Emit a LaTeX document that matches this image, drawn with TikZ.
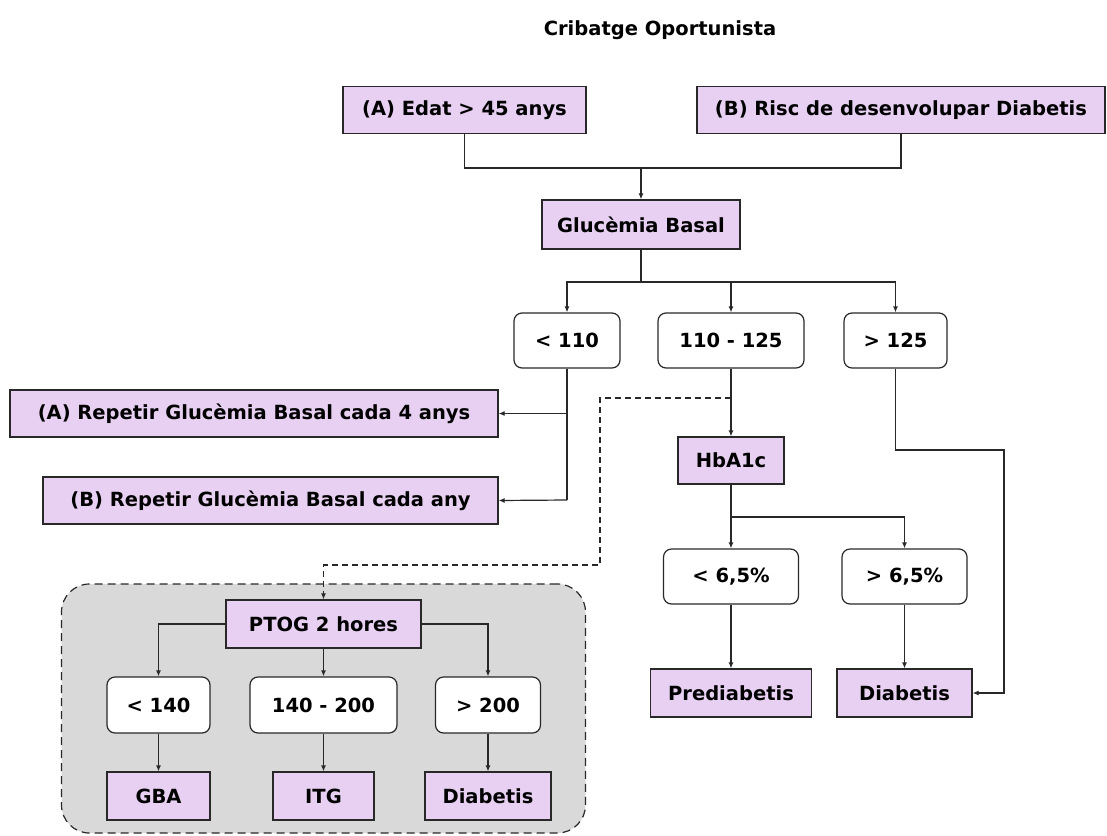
\documentclass[tikz,border=0pt]{standalone}
\usepackage{fontspec}
\setmainfont{DejaVu Sans}
\usetikzlibrary{arrows.meta}
\definecolor{boxfill}{RGB}{232,208,242}
\definecolor{edge}{RGB}{40,40,40}
\definecolor{groupfill}{RGB}{217,217,217}
\tikzset{
  every node/.style={font=\fontsize{19.5}{23}\selectfont\bfseries, text=black},
  pbox/.style={draw=edge, fill=boxfill, line width=1.2pt, inner sep=0pt},
  rbox/.style={draw=edge, fill=white, line width=1.2pt, rounded corners=8pt, inner sep=0pt},
  link/.style={draw=edge, line width=1.2pt},
  arr/.style={link, -{Latex[length=6pt,width=5pt]}},
  grpstyle/.style={draw=edge, fill=groupfill, line width=1.2pt, rounded corners=28pt,
    dash pattern=on 8pt off 5pt, inner sep=0pt},
}
\begin{document}
\begin{tikzpicture}[x=1pt,y=1pt]
\useasboundingbox (0,0) rectangle (1107,-835);

% title
\node (title) at (660,-30) {Cribatge Oportunista};

% grouped oral glucose tolerance test block
\node[grpstyle, minimum width=524pt, minimum height=249pt] (grp) at (323.5,-708.5) {};

% entry criteria
\node[pbox, minimum width=243pt, minimum height=47pt] (A) at (464.5,-110) {(A) Edat > 45 anys};
\node[pbox, minimum width=408pt, minimum height=47pt] (B) at (901,-110) {(B) Risc de desenvolupar Diabetis};
\node[pbox, minimum width=198pt, minimum height=49pt] (G) at (641,-224.5) {Glucèmia Basal};

% fasting glucose ranges
\node[rbox, minimum width=106pt, minimum height=55pt] (L110) at (567,-340.5) {< 110};
\node[rbox, minimum width=146pt, minimum height=55pt] (M) at (731,-340.5) {110 - 125};
\node[rbox, minimum width=103pt, minimum height=55pt] (H125) at (895.5,-340.5) {> 125};

% repeat screening
\node[pbox, minimum width=488pt, minimum height=47pt] (RA) at (254,-413.5) {(A) Repetir Glucèmia Basal cada 4 anys};
\node[pbox, minimum width=455pt, minimum height=47pt] (RB) at (270.5,-500.5) {(B) Repetir Glucèmia Basal cada any};

% HbA1c branch
\node[pbox, minimum width=106pt, minimum height=47pt] (Hb) at (731,-460.5) {HbA1c};
\node[rbox, minimum width=135pt, minimum height=55pt] (L65) at (731,-576.5) {< 6,5\%};
\node[rbox, minimum width=125pt, minimum height=55pt] (G65) at (904.5,-576.5) {> 6,5\%};
\node[pbox, minimum width=161pt, minimum height=48pt] (Pre) at (731,-693) {Prediabetis};
\node[pbox, minimum width=135pt, minimum height=48pt] (Dia) at (904.5,-693) {Diabetis};

% OGTT branch
\node[pbox, minimum width=195pt, minimum height=48pt] (PT) at (323.5,-624) {PTOG 2 hores};
\node[rbox, minimum width=103pt, minimum height=56pt] (L140) at (158.5,-705) {< 140};
\node[rbox, minimum width=147pt, minimum height=56pt] (M140) at (323.5,-705) {140 - 200};
\node[rbox, minimum width=105pt, minimum height=56pt] (G200) at (488,-705) {> 200};
\node[pbox, minimum width=103pt, minimum height=48pt] (GBA) at (158.5,-796) {GBA};
\node[pbox, minimum width=101pt, minimum height=48pt] (ITG) at (323.5,-796) {ITG};
\node[pbox, minimum width=126pt, minimum height=48pt] (D2) at (488,-796) {Diabetis};

% junction points
\coordinate (j1) at (641,-168);
\coordinate (j2) at (641,-282);
\coordinate (j3) at (567,-500);
\coordinate (j4) at (731,-517);
\coordinate (d1) at (600,-398);
\coordinate (d2) at (600,-565);
\coordinate (r1) at (1004,-450);

% connectors
\draw[link] (A.south) |- (j1) -| (B.south);
\draw[arr] (j1) -- (G.north);
\draw[link] (G.south) -- (j2);
\draw[arr] (j2) -| (L110.north);
\draw[arr] (j2) -| (M.north);
\draw[arr] (j2) -| (H125.north);

\draw[link] (L110.south) -- (j3);
\draw[arr] (L110.south |- RA.east) -- (RA.east);
\draw[arr] (j3) -- (RB.east);

\draw[arr] (M.south) -- (Hb.north);
\draw[arr, dash pattern=on 6pt off 4pt] (M.south |- d1) -- (d1) -- (d2) -| (PT.north);

\draw[link] (Hb.south) -- (j4);
\draw[arr] (j4) -- (L65.north);
\draw[arr] (j4) -| (G65.north);
\draw[arr] (L65.south) -- (Pre.north);
\draw[arr] (G65.south) -- (Dia.north);
\draw[arr] (H125.south) |- (r1) |- (Dia.east);

\draw[arr] (PT.west) -| (L140.north);
\draw[arr] (PT.south) -- (M140.north);
\draw[arr] (PT.east) -| (G200.north);
\draw[arr] (L140.south) -- (GBA.north);
\draw[arr] (M140.south) -- (ITG.north);
\draw[arr] (G200.south) -- (D2.north);
\end{tikzpicture}
\end{document}
